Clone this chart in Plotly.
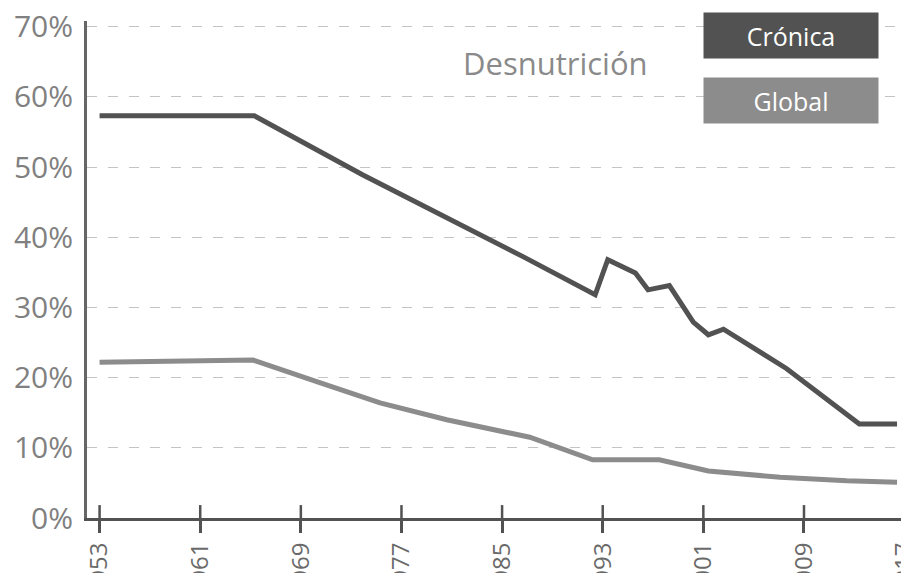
import plotly.graph_objects as go

cronica_years = [1953, 1965.3, 1973.9, 1980.6, 1986.7, 1992.4, 1993.4, 1995.6, 1996.6, 1998.3, 2000.2, 2001.4, 2002.6, 2007.6, 2013.4, 2016.4]
cronica_vals = [57.3, 57.3, 48.9, 42.8, 37.2, 31.8, 36.8, 34.9, 32.5, 33.1, 27.9, 26.1, 26.9, 21.3, 13.4, 13.4]

global_years = [1953, 1965.2, 1970.5, 1975.3, 1980.6, 1987.2, 1992.2, 1997.5, 2001.4, 2007.1, 2012.4, 2016.4]
global_vals = [22.2, 22.5, 19.3, 16.4, 14.0, 11.5, 8.3, 8.3, 6.7, 5.8, 5.3, 5.1]

tick_years = [1953, 1961, 1969, 1977, 1985, 1993, 2001, 2009, 2017]
y_ticks = [0, 10, 20, 30, 40, 50, 60, 70]
y_labels = [f"{v}%" for v in y_ticks]

series_names = ["Crónica", "Global"]
title_text = "Desnutrición"

DARK = "#525252"
LIGHT = "#8c8c8c"
FONT = "Open Sans, Noto Sans, sans-serif"

fig = go.Figure()
fig.add_trace(go.Scatter(x=cronica_years, y=cronica_vals, mode="lines",
                         line=dict(color=DARK, width=5), name=series_names[0],
                         showlegend=False))
fig.add_trace(go.Scatter(x=global_years, y=global_vals, mode="lines",
                         line=dict(color=LIGHT, width=5), name=series_names[1],
                         showlegend=False))

fig.update_layout(
    width=909, height=573,
    margin=dict(l=79, r=10, t=13, b=63, autoexpand=False),
    paper_bgcolor="white", plot_bgcolor="white",
    font=dict(family=FONT),
)

fig.update_xaxes(
    range=[1952.0, 2017.19],
    tickmode="array", tickvals=tick_years, ticktext=[str(t) for t in tick_years],
    tickangle=-90, ticklabeloverflow="allow",
    ticks="outside", ticklen=12, tickwidth=2.5, tickcolor=DARK,
    tickfont=dict(size=24, color="#6a6a6a", family=FONT),
    showline=True, linecolor=DARK, linewidth=3,
    showgrid=False, zeroline=False, automargin=False,
)
fig.update_yaxes(
    range=[0, 70.8],
    tickmode="array", tickvals=y_ticks, ticktext=y_labels,
    ticks="", ticklabelstandoff=5, ticklabeloverflow="allow",
    tickfont=dict(size=30, color="#808080", family=FONT),
    showline=True, linecolor="#666666", linewidth=3,
    showgrid=True, gridcolor="#c4c4c4", gridwidth=1, griddash="10px,11px",
    zeroline=False, automargin=False,
)

# upper half of the tick marks (they cross the axis line)
for t in tick_years:
    fig.add_shape(type="line", xref="x", yref="paper", x0=t, x1=t, y0=0, y1=0.026,
                  line=dict(color=DARK, width=2.5), layer="above")

# legend boxes
box_specs = [(series_names[0], DARK, 0.971), (series_names[1], LIGHT, 0.841)]
for name, col, yc in box_specs:
    fig.add_annotation(xref="paper", yref="paper", x=0.8585, y=yc,
                       text=name, showarrow=False, width=172, height=43,
                       bgcolor=col, xanchor="center", yanchor="middle",
                       font=dict(size=25, color="white", family=FONT))

fig.add_annotation(xref="paper", yref="paper", x=0.571, y=0.915,
                   text=title_text, showarrow=False, xanchor="center", yanchor="middle",
                   font=dict(size=31, color="#8a8a8a", family=FONT))

fig.write_html("out.html")
